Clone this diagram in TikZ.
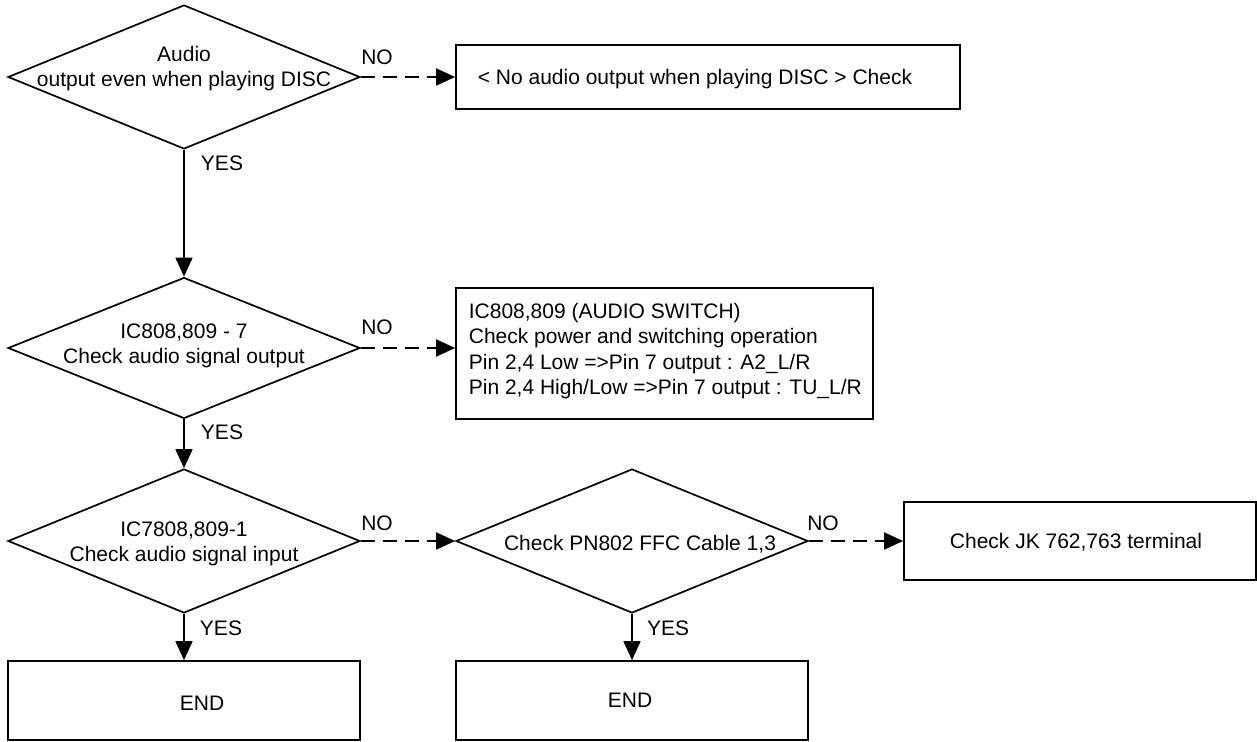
\documentclass[tikz,border=0pt]{standalone}
\usepackage{fontspec}
\setmainfont{Liberation Sans}
\usetikzlibrary{shapes.geometric,arrows.meta}
\begin{document}
\begin{tikzpicture}[x=1pt,y=-1pt,line width=1.7pt,
  every node/.style={font=\fontsize{21}{25.5}\selectfont,inner sep=0pt},
  decision/.style={draw,shape=diamond,minimum width=352pt,minimum height=144pt},
  stepbox/.style={draw,rectangle},
  yesflow/.style={-{Triangle[length=19pt,width=17pt]}},
  noflow/.style={-{Triangle[length=19pt,width=17pt]},dash pattern=on 14pt off 8pt},
  tag/.style={font=\fontsize{21}{24}\selectfont}]
\useasboundingbox (0,0) rectangle (1257,741);

% decisions
\node[decision] (d1) at (184,77) {};
\node[decision,minimum height=141pt] (d2) at (184,348) {};
\node[decision] (d3) at (184,541) {};
\node[decision] (d4) at (632,541) {};

\node[align=center] (d1t) at (184,68.5) {Audio\\output even when playing DISC};
\node[align=center] (d2t) at (184,346) {IC808,809 - 7\\Check audio signal output};
\node[align=center] (d3t) at (184,544) {IC7808,809-1\\Check audio signal input};
\node (d4t) at (640,544) {Check PN802 FFC Cable 1,3};

% action boxes
\node[stepbox,minimum width=504pt,minimum height=64pt] (b1) at (708,77) {};
\node[anchor=west] (b1t) at (477,79) {< No audio output when playing DISC > Check};

\node[stepbox,minimum width=417pt,minimum height=131pt] (b2) at (664.5,353.5) {};
\node[anchor=west,align=left] (b2t) at (468,351)
  {IC808,809 (AUDIO SWITCH)\\Check power and switching operation\\Pin 2,4 Low =>Pin 7 output : A2\_L/R\\Pin 2,4 High/Low =>Pin 7 output : TU\_L/R};

\node[stepbox,minimum width=352pt,minimum height=78pt] (b3) at (1080,541) {};
\node (b3t) at (1076,542) {Check JK 762,763 terminal};

\node[stepbox,minimum width=352pt,minimum height=79pt] (e1) at (184,700.5) {};
\node (e1t) at (202,703) {END};
\node[stepbox,minimum width=352pt,minimum height=79pt] (e2) at (632,700.5) {};
\node (e2t) at (630,700) {END};

% connectors
\draw[noflow] (d1.east) -- (b1.west);
\draw[yesflow] (d1.south) -- (d2.north);
\draw[noflow] (d2.east) -- (d2.east -| b2.west);
\draw[yesflow] (d2.south) -- (d3.north);
\draw[noflow] (d3.east) -- (d4.west);
\draw[noflow] (d4.east) -- (b3.west);
\draw[yesflow] (d3.south) -- (e1.north);
\draw[yesflow] (d4.south) -- (e2.north);

% branch labels
\node[tag] (n1) at (377,57) {NO};
\node[tag] (n2) at (377,327) {NO};
\node[tag] (n3) at (377,523) {NO};
\node[tag] (n4) at (823,523) {NO};
\node[tag] (y1) at (222,163) {YES};
\node[tag] (y2) at (222,432) {YES};
\node[tag] (y3) at (221,628) {YES};
\node[tag] (y4) at (668,628) {YES};
\end{tikzpicture}
\end{document}
